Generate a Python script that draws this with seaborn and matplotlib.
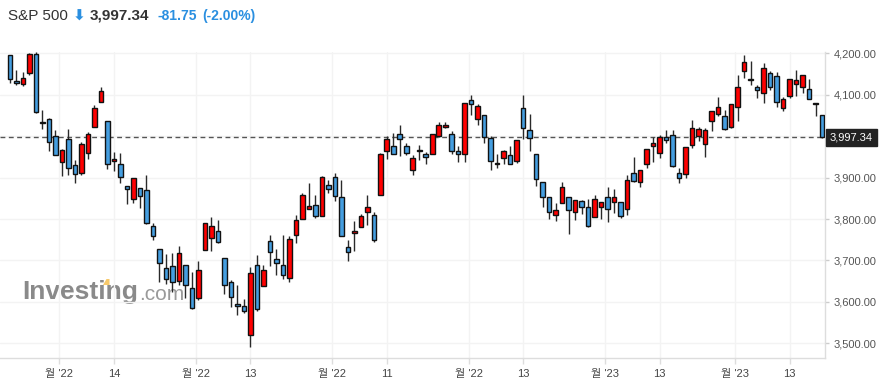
import numpy as np
import pandas as pd
import seaborn as sns
import matplotlib.pyplot as plt
from matplotlib.patches import Polygon

# trading days shown on the chart
aug_days = [22, 23, 24, 25, 26, 29, 30, 31]
sep_days = [1, 2, 6, 7, 8, 9, 12, 13, 14, 15, 16, 19, 20, 21, 22, 23, 26, 27, 28, 29, 30]
oct_days = [3, 4, 5, 6, 7, 10, 11, 12, 13, 14, 17, 18, 19, 20, 21, 24, 25, 26, 27, 28, 31]
nov_days = [1, 2, 3, 4, 7, 8, 9, 10, 11, 14, 15, 16, 17, 18, 21, 22, 23, 25, 28, 29, 30]
dec_days = [1, 2, 5, 6, 7, 8, 9, 12, 13, 14, 15, 16, 19, 20, 21, 22, 23, 27, 28, 29, 30]
jan_days = [3, 4, 5, 6, 9, 10, 11, 12, 13, 17, 18, 19, 20, 23, 24, 25, 26, 27, 30, 31]
feb_days = [1, 2, 3, 6, 7, 8, 9, 10, 13, 14, 15, 16, 17, 21]

opens = [4195, 4133, 4126, 4153, 4198, 4034, 4041, 4000,
         3937, 3994, 3930, 3910, 3959, 4022, 4083, 4037, 3941, 3932, 3880, 3849, 3875, 3871, 3782, 3727, 3682, 3686, 3651, 3688, 3633,
         3609, 3726, 3754, 3771, 3706, 3648, 3595, 3591, 3520, 3690, 3638, 3746, 3703, 3689, 3657, 3762, 3799, 3825, 3834, 3808, 3881,
         3901, 3852, 3733, 3767, 3780, 3817, 3810, 3859, 3963, 3977, 4006, 3976, 3919, 3966, 3956, 3956, 4000, 4023, 4005, 3964, 3958,
         4087, 4041, 4052, 3996, 3933, 3947, 3954, 3939, 4069, 4016, 3958, 3890, 3853, 3810, 3839, 3853, 3816, 3843, 3829, 3805, 3829,
         3853, 3840, 3840, 3823, 3910, 3889, 3932, 3977, 3960, 3999, 4002, 3911, 3909, 3979, 4001, 3982, 4036, 4053, 4049, 4021,
         4070, 4158, 4137, 4119, 4105, 4153, 4144, 4068, 4096, 4126, 4119, 4114, 4078, 4052]
highs = [4195, 4160, 4156, 4200, 4203, 4062, 4044, 4015,
         3970, 4018, 3942, 3987, 4010, 4076, 4119, 4037, 3961, 3959, 3880, 3900, 3876, 3907, 3790, 3727, 3715, 3717, 3736, 3688, 3671,
         3698, 3791, 3806, 3798, 3706, 3652, 3641, 3608, 3685, 3712, 3689, 3762, 3728, 3762, 3758, 3810, 3862, 3886, 3859, 3905, 3893,
         3911, 3894, 3750, 3796, 3813, 3859, 3818, 3959, 4001, 4008, 4028, 3983, 3954, 3979, 3962, 4004, 4034, 4035, 4012, 3976, 4080,
         4100, 4077, 4052, 4001, 3958, 3966, 3977, 3990, 4100, 4053, 3958, 3890, 3854, 3839, 3889, 3853, 3846, 3846, 3849, 3858, 3839,
         3878, 3873, 3840, 3906, 3950, 3919, 3970, 3997, 4003, 4015, 4014, 3922, 3973, 4039, 4023, 4019, 4061, 4094, 4063, 4077,
         4148, 4195, 4182, 4124, 4176, 4157, 4156, 4095, 4138, 4159, 4148, 4137, 4081, 4052]
lows = [4129, 4124, 4120, 4147, 4057, 4017, 3965, 3954,
        3903, 3906, 3886, 3906, 3944, 4022, 4083, 3921, 3915, 3888, 3837, 3838, 3827, 3789, 3749, 3647, 3644, 3623, 3640, 3610, 3584,
        3604, 3726, 3722, 3742, 3620, 3588, 3568, 3574, 3492, 3578, 3638, 3686, 3666, 3656, 3647, 3742, 3799, 3824, 3803, 3808, 3863,
        3843, 3758, 3698, 3722, 3780, 3786, 3744, 3859, 3944, 3956, 3953, 3954, 3906, 3943, 3933, 3956, 3998, 4020, 3956, 3937, 3938,
        4050, 4027, 3984, 3918, 3923, 3933, 3933, 3935, 3994, 3965, 3879, 3828, 3800, 3795, 3839, 3764, 3798, 3813, 3780, 3805, 3800,
        3794, 3815, 3802, 3809, 3890, 3877, 3924, 3937, 3947, 3984, 3926, 3886, 3899, 3972, 3989, 3949, 4013, 4049, 4015, 4020,
        4037, 4141, 4123, 4093, 4080, 4111, 4070, 4060, 4092, 4096, 4103, 4089, 4048, 3995]
closes = [4138, 4129, 4141, 4199, 4058, 4031, 3986, 3955,
          3967, 3924, 3908, 3980, 4006, 4067, 4110, 3933, 3946, 3901, 3873, 3900, 3856, 3790, 3758, 3693, 3655, 3647, 3719, 3640, 3586,
          3678, 3791, 3783, 3745, 3640, 3612, 3589, 3577, 3670, 3583, 3678, 3720, 3695, 3666, 3753, 3797, 3859, 3831, 3807, 3901, 3872,
          3856, 3760, 3720, 3771, 3807, 3828, 3749, 3956, 3993, 3957, 3992, 3959, 3947, 3965, 3950, 4004, 4027, 4026, 3964, 3958, 4080,
          4077, 4072, 3999, 3941, 3934, 3964, 3934, 3991, 4020, 3995, 3896, 3852, 3818, 3822, 3878, 3822, 3845, 3829, 3783, 3849, 3840,
          3824, 3853, 3808, 3895, 3892, 3919, 3970, 3983, 3999, 3991, 3929, 3899, 3973, 4020, 4017, 4016, 4060, 4071, 4018, 4077,
          4119, 4180, 4136, 4111, 4164, 4118, 4082, 4090, 4137, 4136, 4148, 4090, 4079, 3997.34]

last_price = 3997.34
price_ticks = [3500, 3600, 3700, 3800, 3900, 4000, 4100, 4200]
mid_tick_dates = ["2022-09-14", "2022-10-13", "2022-11-11", "2022-12-13", "2023-01-13", "2023-02-13"]

dates = pd.to_datetime(
    ["2022-08-%02d" % d for d in aug_days] + ["2022-09-%02d" % d for d in sep_days]
    + ["2022-10-%02d" % d for d in oct_days] + ["2022-11-%02d" % d for d in nov_days]
    + ["2022-12-%02d" % d for d in dec_days] + ["2023-01-%02d" % d for d in jan_days]
    + ["2023-02-%02d" % d for d in feb_days])

df = pd.DataFrame({"date": dates, "open": opens, "high": highs, "low": lows, "close": closes})
df["x"] = np.arange(len(df))
df["up"] = df["close"] >= df["open"]
df["bottom"] = df[["open", "close"]].min(axis=1)
df["height"] = (df["close"] - df["open"]).abs().clip(lower=1.5)

sns.set_theme(style="white")
plt.rcParams['font.family'] = ['Liberation Sans', 'Noto Sans CJK KR', 'DejaVu Sans']

fig = plt.figure(figsize=(8.88, 3.89), dpi=100)
ax = fig.add_axes([0, 31 / 389, 825 / 888, 306 / 389])

up_col = '#ff0000'
down_col = '#459ee0'

ax.vlines(df["x"], df["low"], df["high"], color='#2a2a2a', linewidth=1.0, zorder=3)
ax.bar(df["x"], df["height"], bottom=df["bottom"], width=0.7,
       color=[up_col if u else down_col for u in df["up"]],
       edgecolor='#111111', linewidth=1.0, zorder=4)

ax.axhline(last_price, color='#555555', linewidth=1.0, linestyle=(0, (3.5, 2.5)), zorder=2)

# x ticks: month starts (half a slot before first trading day) and mid-month days
month_first = df.groupby(df["date"].dt.to_period("M"))["x"].min()
month_first = month_first[month_first > 0]
month_pos = [v - 0.4 for v in month_first.values]
month_lab = ["월 '%s" % str(p.year)[2:] for p in month_first.index]
mid_idx = [int(df.index[df["date"] == pd.Timestamp(d)][0]) for d in mid_tick_dates]
mid_lab = [str(pd.Timestamp(d).day) for d in mid_tick_dates]

ticks = sorted(zip(month_pos + mid_idx, month_lab + mid_lab))
ax.set_xticks([t[0] for t in ticks])
ax.set_xticklabels([t[1] for t in ticks])
ax.set_xlim(-10 / 6.496, len(df) - 1 + 3 / 6.496)
ax.set_ylim(3464.6, 4203.1)

# right price axis; the label nearest the last price is covered by the price tag
ax.yaxis.tick_right()
ax.set_yticks(price_ticks)
ax.set_yticklabels(["" if abs(v - last_price) < 30 else "{:,.2f}".format(v) for v in price_ticks])

ax.grid(True, color='#f3f3f3', linewidth=1.0, zorder=0)
ax.tick_params(axis='x', bottom=True, length=4, width=1, color='#dddddd', pad=4, labelsize=8, labelcolor='#444444')
ax.tick_params(axis='y', right=True, left=False, length=3, width=1, color='#cccccc', pad=3, labelsize=8, labelcolor='#555555')
for side in ['top', 'left']:
    ax.spines[side].set_visible(False)
for side in ['right', 'bottom']:
    ax.spines[side].set_color('#dddddd')
    ax.spines[side].set_linewidth(1.0)

# last price tag
ax.text(1.0 + 5 / 825, last_price, "{:,.2f}".format(last_price), transform=ax.get_yaxis_transform(),
        ha='left', va='center', color='white', fontsize=8, zorder=6, clip_on=False,
        bbox=dict(boxstyle='square,pad=0.33', facecolor='#222222', edgecolor='#222222'))

# watermark
fig.text(22 / 888, 1 - 299.5 / 389, "Investing", fontsize=19, fontweight='bold', color='#8a8a8a',
         va='baseline', ha='left', zorder=1)
fig.text(139 / 888, 1 - 299.5 / 389, ".com", fontsize=15, color='#9a9a9a', va='baseline', ha='left', zorder=1)
pts = [(103, 285), (106.5, 279), (109.5, 279), (109.5, 285)]
fig.patches.append(Polygon([(px / 888, 1 - py / 389) for px, py in pts], closed=True,
                           transform=fig.transFigure, facecolor='#f7c96b', edgecolor='none', zorder=1))
ax.set_zorder(2)
ax.patch.set_alpha(0)

# header
hy = 1 - 16 / 389
fig.text(8 / 888, hy, "S&P 500", fontsize=11, color='#333333', va='center', ha='left')
fig.text(73 / 888, hy, "\u2b07", fontsize=11, fontweight='bold', color='#2a8fe0', va='center', ha='left',
         family=['DejaVu Sans'])
fig.text(90 / 888, hy, "{:,.2f}".format(last_price), fontsize=11, fontweight='bold', color='#333333', va='center', ha='left')
fig.text(158 / 888, hy, "-81.75", fontsize=10, fontweight='bold', color='#2a8fe0', va='center', ha='left')
fig.text(202 / 888, hy, "(-2.00%)", fontsize=10, fontweight='bold', color='#2a8fe0', va='center', ha='left')

fig.savefig("out.png", dpi=100, facecolor='white')
